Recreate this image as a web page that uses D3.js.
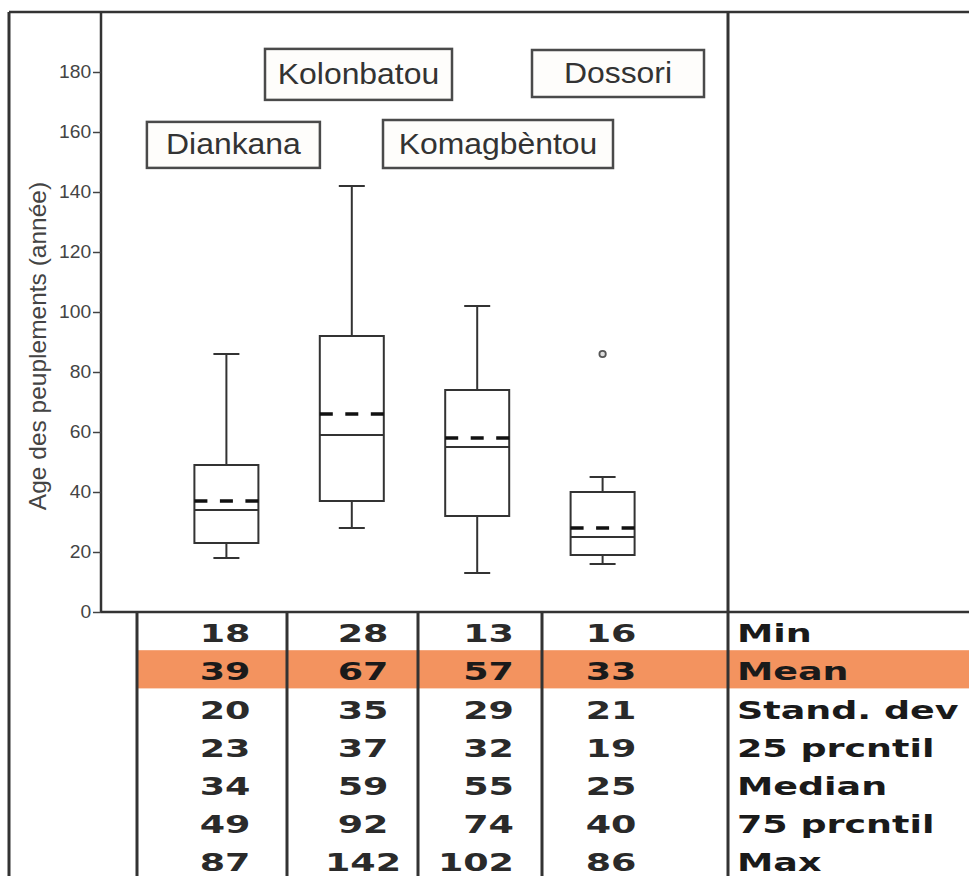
<!DOCTYPE html>
<html>
<head>
<meta charset="utf-8">
<script src="https://cdn.jsdelivr.net/npm/d3@7"></script>
<style>
  html, body { margin: 0; padding: 0; background: #ffffff; }
  svg { display: block; }
</style>
</head>
<body>
<svg id="chart" width="969" height="876"></svg>
<script>
// ---------- DATA ----------
const categories   = ["Diankana", "Kolonbatou", "Komagbèntou", "Dossori"];
const q1Values     = [23, 37, 32, 19];
const medianValues = [34, 59, 55, 25];
const q3Values     = [49, 92, 74, 40];
const whiskerLow   = [18, 28, 13, 16];
const whiskerHigh  = [86, 142, 102, 45];
const plotMeans    = [37, 66, 58, 28];
const outlierValues = [[], [], [], [86]];
const yTickValues  = [0, 20, 40, 60, 80, 100, 120, 140, 160, 180];

const statLabels   = ["Min", "Mean", "Stand. dev", "25 prcntil", "Median", "75 prcntil", "Max"];
const tableMin     = [18, 28, 13, 16];
const tableMean    = [39, 67, 57, 33];
const tableSD      = [20, 35, 29, 21];
const tableP25     = [23, 37, 32, 19];
const tableMedian  = [34, 59, 55, 25];
const tableP75     = [49, 92, 74, 40];
const tableMax     = [87, 142, 102, 86];
const tableRows    = [tableMin, tableMean, tableSD, tableP25, tableMedian, tableP75, tableMax];
const highlightRow = 1;

// ---------- LAYOUT ----------
const W = 969, H = 876;
const frameLeft = 9, frameTop = 12;
const axisX = 101, axisY = 612, plotRight = 728;
const svg = d3.select("#chart");

const y = d3.scaleLinear().domain([0, 200]).range([axisY, frameTop]);
const x = d3.scalePoint().domain(categories).range([axisX, plotRight]).padding(1);

const boxW = 64, capW = 26;
const lineColor = "#333";

svg.append("rect").attr("width", W).attr("height", H).attr("fill", "#fff");

// ---------- TABLE BACKGROUND ----------
const tableTop = axisY, rowH = 38.2;
const rowY = d3.scaleBand().domain(d3.range(statLabels.length))
  .range([tableTop, tableTop + rowH * statLabels.length]).paddingInner(0).paddingOuter(0);
const colLines = [137, 287, 418, 542];

svg.append("rect")
  .attr("x", colLines[0]).attr("y", rowY(highlightRow))
  .attr("width", W - colLines[0]).attr("height", rowY.bandwidth())
  .attr("fill", "#f3935f");

// ---------- FRAME & AXES ----------
svg.append("line").attr("x1", frameLeft).attr("x2", W).attr("y1", frameTop).attr("y2", frameTop)
  .attr("stroke", lineColor).attr("stroke-width", 2.5);
svg.append("line").attr("x1", frameLeft).attr("x2", frameLeft).attr("y1", frameTop).attr("y2", H)
  .attr("stroke", lineColor).attr("stroke-width", 3);
svg.append("line").attr("x1", plotRight).attr("x2", plotRight).attr("y1", frameTop).attr("y2", H)
  .attr("stroke", lineColor).attr("stroke-width", 3);
svg.append("line").attr("x1", axisX).attr("x2", W).attr("y1", axisY).attr("y2", axisY)
  .attr("stroke", lineColor).attr("stroke-width", 2.5);

const yAxis = d3.axisLeft(y).tickValues(yTickValues).tickSize(8).tickPadding(1).tickSizeOuter(0);
const gy = svg.append("g").attr("transform", `translate(${axisX},0)`).call(yAxis);
gy.select(".domain").attr("stroke", lineColor).attr("stroke-width", 2.5)
  .attr("d", `M0,${frameTop}V${axisY}`);
gy.selectAll(".tick line").attr("stroke", "#444").attr("stroke-width", 1.5);
gy.selectAll(".tick text")
  .attr("font-family", "'Liberation Sans', Arial, sans-serif")
  .attr("font-size", 17.5).attr("fill", "#444")
  .attr("transform", "scale(1.1,1)");

svg.append("text")
  .attr("transform", `translate(46,346) rotate(-90)`)
  .attr("text-anchor", "middle")
  .attr("font-family", "'Liberation Sans', Arial, sans-serif")
  .attr("font-size", 24.5).attr("fill", "#444")
  .text("Age des peuplements (année)");

// ---------- BOXPLOTS ----------
const boxes = svg.append("g");
categories.forEach((c, i) => {
  const cx = x(c);
  const g = boxes.append("g");
  g.append("line").attr("x1", cx).attr("x2", cx).attr("y1", y(q3Values[i])).attr("y2", y(whiskerHigh[i]))
    .attr("stroke", lineColor).attr("stroke-width", 2);
  g.append("line").attr("x1", cx).attr("x2", cx).attr("y1", y(q1Values[i])).attr("y2", y(whiskerLow[i]))
    .attr("stroke", lineColor).attr("stroke-width", 2);
  [whiskerHigh[i], whiskerLow[i]].forEach(v => {
    g.append("line").attr("x1", cx - capW / 2).attr("x2", cx + capW / 2).attr("y1", y(v)).attr("y2", y(v))
      .attr("stroke", lineColor).attr("stroke-width", 2);
  });
  g.append("rect").attr("x", cx - boxW / 2).attr("y", y(q3Values[i]))
    .attr("width", boxW).attr("height", y(q1Values[i]) - y(q3Values[i]))
    .attr("fill", "none").attr("stroke", lineColor).attr("stroke-width", 2);
  g.append("line").attr("x1", cx - boxW / 2).attr("x2", cx + boxW / 2)
    .attr("y1", y(medianValues[i])).attr("y2", y(medianValues[i]))
    .attr("stroke", lineColor).attr("stroke-width", 2);
  g.append("line").attr("x1", cx - boxW / 2).attr("x2", cx + boxW / 2)
    .attr("y1", y(plotMeans[i])).attr("y2", y(plotMeans[i]))
    .attr("stroke", "#111").attr("stroke-width", 3.5).attr("stroke-dasharray", "13,12.5");
  outlierValues[i].forEach(v => {
    g.append("circle").attr("cx", cx).attr("cy", y(v)).attr("r", 3.2)
      .attr("fill", "#ddd").attr("stroke", "#555").attr("stroke-width", 1.8);
  });
});

// ---------- CATEGORY LABEL BOXES ----------
const labelLayout = [
  { dx: 7,  v: 155.7, w: 173, h: 46 },
  { dx: 6.7, v: 179.2, w: 187, h: 51 },
  { dx: 20.8, v: 156, w: 230, h: 48 },
  { dx: 15.4, v: 179.5, w: 172, h: 47 }
];
categories.forEach((c, i) => {
  const L = labelLayout[i];
  const cx = x(c) + L.dx, cy = y(L.v);
  svg.append("rect").attr("x", cx - L.w / 2).attr("y", cy - L.h / 2)
    .attr("width", L.w).attr("height", L.h)
    .attr("fill", "#fefdfb").attr("stroke", "#4a4a4a").attr("stroke-width", 2.5);
  svg.append("text")
    .attr("transform", `translate(${cx},${cy + 9.5}) scale(1.1,1)`)
    .attr("text-anchor", "middle")
    .attr("font-family", "'Liberation Sans', Arial, sans-serif")
    .attr("font-size", 29).attr("fill", "#333")
    .text(c);
});

// ---------- TABLE ----------
colLines.forEach(cx => {
  svg.append("line").attr("x1", cx).attr("x2", cx).attr("y1", axisY).attr("y2", H)
    .attr("stroke", lineColor).attr("stroke-width", 3);
});
const colText = [
  { x: 225, anchor: "middle" },
  { x: 363, anchor: "middle" },
  { x: 514, anchor: "end" },
  { x: 611, anchor: "middle" }
];
const tFont = "'DejaVu Sans', Verdana, sans-serif";
tableRows.forEach((row, r) => {
  const cy = rowY(r) + rowY.bandwidth() / 2 + 11;
  row.forEach((val, ci) => {
    svg.append("text")
      .attr("transform", `translate(${colText[ci].x},${cy}) scale(1.52,1)`)
      .attr("text-anchor", colText[ci].anchor)
      .attr("font-family", tFont).attr("font-weight", "bold")
      .attr("font-size", 24).attr("fill", r === highlightRow ? "#1a1a1a" : "#2a2a2a")
      .text(val);
  });
  svg.append("text")
    .attr("transform", `translate(737,${cy}) scale(1.52,1)`)
    .attr("text-anchor", "start")
    .attr("font-family", tFont).attr("font-weight", "bold")
    .attr("font-size", 24).attr("fill", "#1a1a1a")
    .text(statLabels[r]);
});
</script>
</body>
</html>
